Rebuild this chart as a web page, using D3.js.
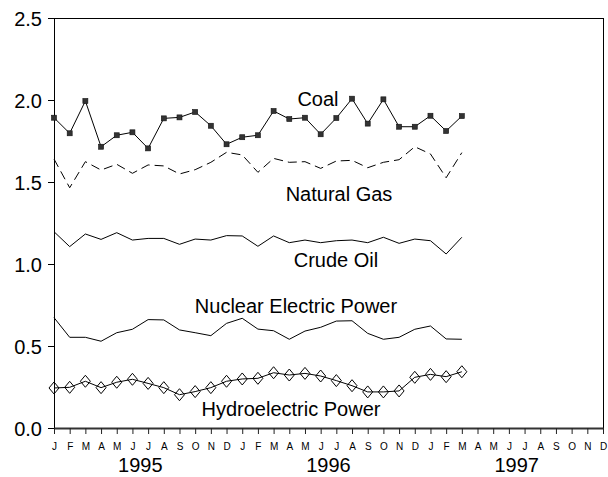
<!DOCTYPE html>
<html>
<head>
<meta charset="utf-8">
<script src="https://cdn.jsdelivr.net/npm/d3@7"></script>
<style>
  html, body { margin: 0; padding: 0; background: #fff; }
  svg { display: block; }
  text { font-family: "Liberation Sans", Arial, sans-serif; fill: #000; }
</style>
</head>
<body>
<svg id="chart" width="608" height="477"></svg>
<script>
// ---- Data (Jan 1995 .. Mar 1997) ----
const monthLetters = ["J","F","M","A","M","J","J","A","S","O","N","D"];
const years = ["1995", "1996", "1997"];
const yTicks = [0, 0.5, 1.0, 1.5, 2.0, 2.5];

const coal = [1.892,1.797,1.994,1.715,1.785,1.803,1.705,1.888,1.894,1.927,1.843,1.730,1.773,1.785,
              1.933,1.884,1.892,1.791,1.890,2.008,1.856,2.004,1.837,1.837,1.904,1.811,1.902];
const naturalGas = [1.640,1.465,1.624,1.573,1.608,1.553,1.604,1.598,1.549,1.575,1.620,1.681,1.665,1.559,
                    1.644,1.620,1.624,1.583,1.628,1.632,1.587,1.620,1.636,1.715,1.671,1.526,1.679];
const crudeOil = [1.197,1.106,1.183,1.150,1.191,1.146,1.156,1.156,1.120,1.152,1.146,1.173,1.171,1.108,
                  1.171,1.130,1.146,1.130,1.142,1.146,1.130,1.163,1.126,1.152,1.142,1.061,1.163];
const nuclear = [0.673,0.553,0.553,0.529,0.581,0.602,0.661,0.659,0.598,0.581,0.563,0.638,0.669,0.603,
                 0.593,0.541,0.591,0.614,0.652,0.654,0.577,0.541,0.553,0.602,0.622,0.543,0.541];
const hydro = [0.244,0.248,0.285,0.246,0.279,0.297,0.272,0.246,0.203,0.222,0.246,0.285,0.299,0.303,
               0.337,0.323,0.333,0.317,0.289,0.258,0.220,0.220,0.226,0.309,0.327,0.313,0.343];

const seriesLabels = ["Coal", "Natural Gas", "Crude Oil", "Nuclear Electric Power", "Hydroelectric Power"];

// ---- Layout ----
const svg = d3.select("#chart");
const plotL = 54, plotR = 603, plotT = 18, plotB = 428;
const nMonths = monthLetters.length * years.length;

const x = d3.scaleLinear().domain([0, nMonths - 1]).range([plotL, plotR]);
const y = d3.scaleLinear().domain([0, 2.5]).range([plotB, plotT]);

// frame top & right
svg.append("line").attr("x1", plotL).attr("x2", plotR).attr("y1", plotT + 0.5).attr("y2", plotT + 0.5)
  .attr("stroke", "#000").attr("stroke-width", 1);
svg.append("line").attr("x1", plotR + 0.5).attr("x2", plotR + 0.5).attr("y1", plotT).attr("y2", plotB)
  .attr("stroke", "#000").attr("stroke-width", 1);

// y axis
const yAxis = d3.axisLeft(y).tickValues(yTicks).tickFormat(d3.format(".1f")).tickSize(6).tickSizeOuter(0).tickPadding(6);
const gy = svg.append("g").attr("transform", `translate(${plotL},0)`).call(yAxis);
gy.selectAll("text").style("font-size", "20px").attr("fill", "#000").attr("dy", "0.35em");
gy.selectAll("line, path").attr("stroke", "#000");

// x axis
const xAxis = d3.axisBottom(x).tickValues(d3.range(nMonths))
  .tickFormat(i => monthLetters[i % 12]).tickSize(6).tickSizeOuter(0).tickPadding(9);
const gx = svg.append("g").attr("transform", `translate(0,${plotB})`).call(xAxis);
gx.selectAll("text").style("font-size", "10px").attr("fill", "#000");
gx.selectAll("line").attr("stroke", "#222");
gx.select("path.domain").attr("stroke", "#333").attr("stroke-width", 2);

// year labels
svg.selectAll("text.year").data(years).enter().append("text")
  .attr("class", "year")
  .attr("x", (d, i) => (x(i * 12) + x(i * 12 + 11)) / 2)
  .attr("y", 472)
  .attr("text-anchor", "middle")
  .style("font-size", "20px")
  .text(d => d);

// lines
const line = d3.line().x((d, i) => x(i)).y(d => y(d));
const plot = svg.append("g");

function drawLine(data, dash) {
  plot.append("path").datum(data).attr("d", line)
    .attr("fill", "none").attr("stroke", "#000").attr("stroke-width", 1)
    .attr("stroke-dasharray", dash || null);
}
drawLine(coal);
drawLine(naturalGas, "9,5");
drawLine(crudeOil);
drawLine(nuclear);
drawLine(hydro);

// coal markers
plot.selectAll("rect.coal").data(coal).enter().append("rect")
  .attr("x", (d, i) => x(i) - 2.5).attr("y", d => y(d) - 2.5)
  .attr("width", 5).attr("height", 5)
  .attr("fill", "#333").attr("stroke", "#111").attr("stroke-width", 0.6);

// hydro markers (diamonds)
plot.selectAll("path.hydro").data(hydro).enter().append("path")
  .attr("d", (d, i) => {
    const cx = x(i), cy = y(d);
    return `M${cx},${cy - 6}L${cx + 5},${cy}L${cx},${cy + 6}L${cx - 5},${cy}Z`;
  })
  .attr("fill", "none").attr("stroke", "#000").attr("stroke-width", 1);

// series labels
const labelPos = [
  { x: 318, y: 106 },
  { x: 339, y: 201 },
  { x: 336, y: 267 },
  { x: 296, y: 313 },
  { x: 291, y: 416 }
];
svg.selectAll("text.series").data(seriesLabels).enter().append("text")
  .attr("class", "series")
  .attr("x", (d, i) => labelPos[i].x)
  .attr("y", (d, i) => labelPos[i].y)
  .attr("text-anchor", "middle")
  .style("font-size", "20px")
  .text(d => d);
</script>
</body>
</html>
